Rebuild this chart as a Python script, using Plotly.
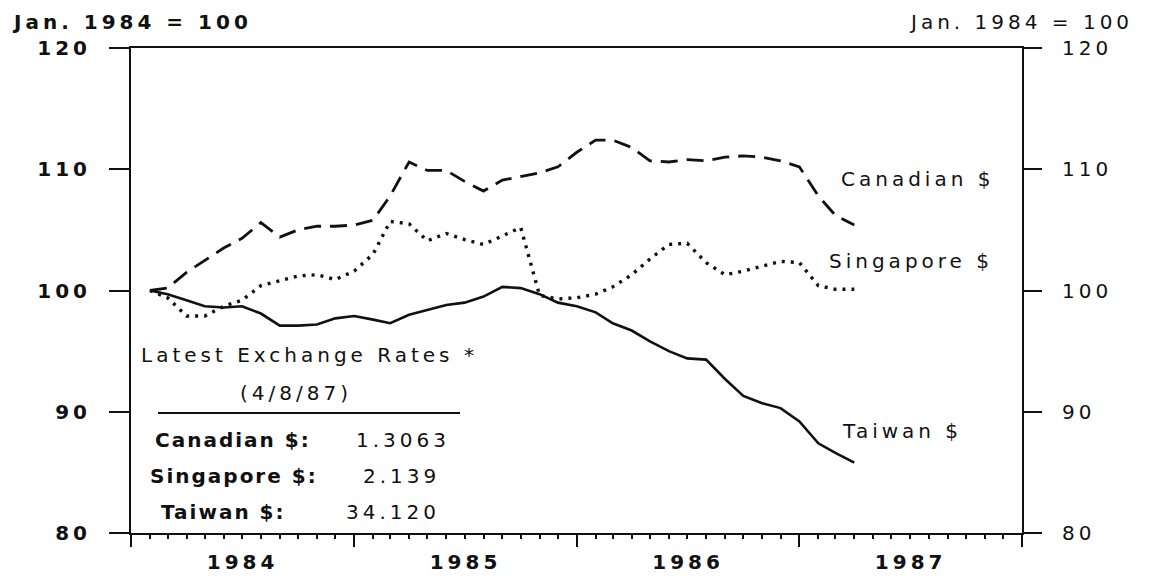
import pandas as pd
import plotly.graph_objects as go

# ---- data (monthly index, Jan. 1984 = 100) ----
months = pd.date_range("1984-01-01", periods=39, freq="MS")

canadian = [100.0, 100.2, 101.5, 102.5, 103.5, 104.3, 105.6, 104.4, 105.0, 105.3,
            105.3, 105.4, 105.8, 107.8, 110.6, 109.9, 109.9, 109.0, 108.2, 109.1,
            109.4, 109.7, 110.2, 111.4, 112.4, 112.4, 111.8, 110.7, 110.6, 110.8,
            110.7, 111.0, 111.1, 111.0, 110.7, 110.2, 107.8, 106.2, 105.4]

singapore = [100.0, 99.4, 97.9, 97.9, 98.7, 99.2, 100.4, 100.8, 101.2, 101.3,
             100.9, 101.6, 103.0, 105.7, 105.5, 104.1, 104.7, 104.2, 103.8, 104.5,
             105.2, 99.6, 99.3, 99.4, 99.7, 100.3, 101.3, 102.6, 103.8, 103.9,
             102.3, 101.3, 101.6, 102.0, 102.4, 102.3, 100.4, 100.1, 100.1]

taiwan = [100.0, 99.7, 99.2, 98.7, 98.6, 98.7, 98.1, 97.1, 97.1, 97.2,
          97.7, 97.9, 97.6, 97.3, 98.0, 98.4, 98.8, 99.0, 99.5, 100.3,
          100.2, 99.7, 99.0, 98.7, 98.2, 97.3, 96.7, 95.8, 95.0, 94.4,
          94.3, 92.7, 91.3, 90.7, 90.3, 89.2, 87.4, 86.6, 85.8]

series_names = ["Canadian $", "Singapore $", "Taiwan $"]
y_ticks = [80, 90, 100, 110, 120]
axis_title = "Jan. 1984 = 100"
box_title = "Latest Exchange Rates *"
box_date = "(4/8/87)"
rate_labels = ["Canadian $:", "Singapore $:", "Taiwan $:"]
rate_values = ["1.3063", "2.139", "34.120"]

# ---- figure ----
FONT = "DejaVu Sans"
INK = "#111111"
INK_TIGHT = "#101010"   # same black, used to select tighter letter spacing
W, H = 1156, 578
L, R, T, B = 131, 134, 48, 45
PW, PH = W - L - R, H - T - B


def px(x):
    return (x - L) / PW


def py(y):
    return (H - B - y) / PH


fig = go.Figure()
styles = [dict(dash="17px,9px", width=2.8), dict(dash="3px,6px", width=3.4), dict(dash="solid", width=2.6)]
for name, vals, st in zip(series_names, [canadian, singapore, taiwan], styles):
    fig.add_trace(go.Scatter(
        x=months, y=vals, mode="lines", name=name,
        xperiod="M1", xperiodalignment="end",
        line=dict(color=INK, **st), showlegend=False,
    ))
# invisible trace on right axis
fig.add_trace(go.Scatter(x=months[:1], y=[100], yaxis="y2", mode="markers",
                         marker=dict(opacity=0), showlegend=False, hoverinfo="skip"))

fig.update_layout(
    width=W, height=H,
    margin=dict(l=L, r=R, t=T, b=B, autoexpand=False),
    paper_bgcolor="white", plot_bgcolor="white",
    font=dict(family=FONT, size=20, color=INK),
    xaxis=dict(
        type="date", range=["1984-01-01", "1988-01-01"],
        tick0="1984-01-01", dtick="M12", tickformat="%Y", ticklabelmode="period",
        ticks="outside", ticklen=12, tickwidth=2, tickcolor=INK,
        minor=dict(dtick="M1", ticks="outside", ticklen=4, tickwidth=1.5, tickcolor=INK),
        showline=True, linewidth=2, linecolor=INK, mirror=True,
        showgrid=False, zeroline=False, automargin=False,
        tickfont=dict(family=FONT, size=20, color=INK, weight="bold"),
        ticklabelstandoff=-2,
    ),
    yaxis=dict(
        range=[80, 120], tickvals=y_ticks,
        ticks="outside", ticklen=20, tickwidth=2, tickcolor=INK,
        showline=True, linewidth=2, linecolor=INK,
        showgrid=False, zeroline=False, automargin=False,
        tickfont=dict(family=FONT, size=20, color=INK, weight="bold"),
        ticklabelstandoff=14,
    ),
    yaxis2=dict(
        range=[80, 120], tickvals=y_ticks, overlaying="y", side="right",
        ticks="outside", ticklen=18, tickwidth=2, tickcolor=INK,
        showline=True, linewidth=2, linecolor=INK,
        showgrid=False, zeroline=False, automargin=False,
        tickfont=dict(family=FONT, size=20, color=INK),
        ticklabelstandoff=16,
    ),
)

ann = []
# (text, center x px, center y px, bold, tight)
ann.append((axis_title, 132, 22, True, False))
ann.append((axis_title, 1021, 22, False, False))

label_pos = [(917, 179), (911, 261), (902, 431)]
for name, (cx, cy) in zip(series_names, label_pos):
    ann.append((name, cx, cy, False, False))

ann.append((box_title, 309, 355, False, False))
ann.append((box_date, 296, 393, False, False))

rate_rows = [(233, 403, 440), (234, 401, 476), (223, 393, 512)]
for lab, val, (lx, vx, cy) in zip(rate_labels, rate_values, rate_rows):
    ann.append((lab, lx, cy, True, True))
    ann.append((val, vx, cy, False, False))

annotations = []
for text, cx, cy, bold, tight in ann:
    f = dict(family=FONT, size=20, color=INK_TIGHT if tight else INK)
    if bold:
        f["weight"] = "bold"
    annotations.append(dict(text=text, x=px(cx), y=py(cy), xref="paper", yref="paper",
                            xanchor="center", yanchor="middle", showarrow=False, font=f))
fig.update_layout(annotations=annotations)

fig.add_shape(type="line", xref="paper", yref="paper",
              x0=px(158), x1=px(460), y0=py(413), y1=py(413),
              line=dict(color=INK, width=2))

post = ("var s=document.createElement('style');"
        "s.textContent='body{margin:0;overflow:hidden} svg text{letter-spacing:4px}"
        " svg text[style*=\"rgb(16, 16, 16)\"]{letter-spacing:2px}';"
        "document.head.appendChild(s);")
fig.write_html("out.html", post_script=post, config={"displayModeBar": False})
